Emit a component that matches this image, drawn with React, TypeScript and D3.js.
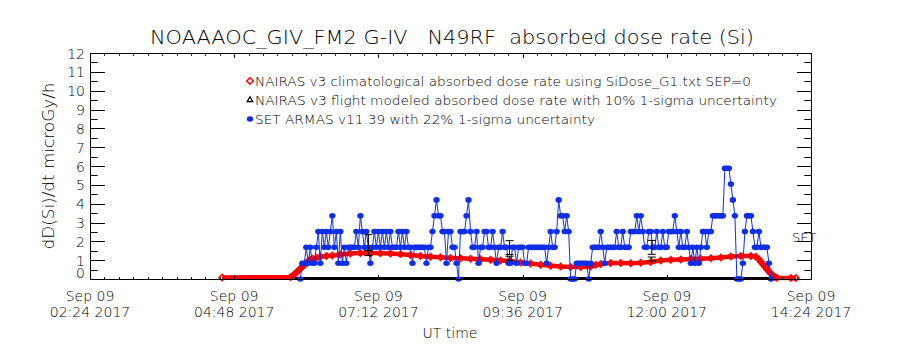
import React from 'react';
import * as d3 from 'd3';

// NAIRAS vs ARMAS absorbed dose rate, IDL-style frame with inward ticks.

const DAY = '2017-09-09';
const xTickLabels = ['02:24', '04:48', '07:12', '09:36', '12:00', '14:24'];
const yTickLabels = [0, 1, 2, 3, 4, 5, 6, 7, 8, 9, 10, 11, 12];

// NAIRAS v3 climatological (red diamonds)
const climTimes = [
  '04:36', '05:44', '05:46', '05:48', '05:50', '05:52', '05:54', '05:56', '05:58', '06:00',
  '06:02', '06:04', '06:06', '06:10', '06:14', '06:20', '06:26', '06:34', '06:44', '06:54',
  '07:04', '07:14', '07:24', '07:34', '07:44', '07:54', '08:04', '08:14', '08:24', '08:34',
  '08:44', '08:54', '09:04', '09:14', '09:24', '09:34', '09:44', '09:54', '10:04', '10:14',
  '10:24', '10:34', '10:44', '10:49', '10:54', '11:04', '11:14', '11:24', '11:34', '11:44',
  '11:54', '12:04', '12:14', '12:24', '12:34', '12:44', '12:54', '13:04', '13:14', '13:24',
  '13:29', '13:32', '13:34', '13:36', '13:38', '13:40', '13:42', '13:44', '13:46', '13:48',
  '13:50', '14:04', '14:09',
];
const climDose = [
  0.08, 0.1, 0.15, 0.25, 0.35, 0.45, 0.55, 0.65, 0.75, 0.85,
  0.95, 1.02, 1.08, 1.12, 1.18, 1.22, 1.25, 1.3, 1.35, 1.38,
  1.38, 1.37, 1.35, 1.32, 1.28, 1.22, 1.18, 1.15, 1.12, 1.1,
  1.08, 1.05, 1.02, 0.98, 0.95, 0.88, 0.82, 0.76, 0.7, 0.66,
  0.64, 0.64, 0.66, 0.75, 0.8, 0.85, 0.85, 0.84, 0.86, 0.9,
  0.98, 1.02, 1.04, 1.06, 1.08, 1.1, 1.14, 1.2, 1.22, 1.22,
  1.18, 1.05, 0.9, 0.78, 0.65, 0.52, 0.4, 0.28, 0.18, 0.1,
  0.06, 0.05, 0.05,
];

// SET ARMAS v11.39, one reading every 2 min from 05:54
const armasStart = '05:54';
const armasStepMin = 2;
const armasDose = [
  0, 0.84, 0.84, 1.68, 0.84, 1.68, 0.84, 0.84, 1.68, 2.52,
  0.84, 2.52, 1.68, 2.52, 1.68, 2.52, 3.36, 1.68, 2.52, 0.84,
  2.52, 0.84, 1.68, 0.84, 1.68, 1.68, 1.68, 1.68, 2.52, 1.68,
  3.36, 2.52, 1.68, 2.52, 1.68, 0.84, 1.68, 2.52, 1.68, 2.52,
  1.68, 2.52, 1.68, 2.52, 1.68, 2.52, 1.68, 1.68, 1.68, 2.52,
  1.68, 2.52, 1.68, 2.52, 1.68, 1.68, 0.84, 1.68, 1.68, 1.68,
  1.68, 1.68, 1.68, 0.84, 1.68, 1.68, 2.52, 3.36, 4.2, 3.36,
  3.36, 2.52, 2.52, 0.84, 2.52, 2.52, 1.68, 1.68, 0.84, 0,
  2.52, 2.52, 2.52, 3.36, 4.2, 2.52, 1.68, 1.68, 2.52, 0.84,
  1.68, 1.68, 2.52, 2.52, 1.68, 1.68, 2.52, 1.68, 0.84, 1.68,
  1.68, 2.52, 1.68, 1.68, 0.84, 0.84, 1.68, 1.68, 0.84, 1.68,
  1.68, 1.68, 0.84, 0.84, 1.68, 1.68, 1.68, 1.68, 1.68, 1.68,
  1.68, 1.68, 1.68, 0.84, 1.68, 2.52, 1.68, 1.68, 2.52, 4.2,
  3.36, 3.36, 2.52, 3.36, 2.52, 0, 0, 0, 0.84, 0.84,
  0.84, 0.84, 0.84, 0.84, 0, 0.84, 1.68, 1.68, 1.68, 1.68,
  2.52, 1.68, 0.84, 1.68, 1.68, 1.68, 1.68, 1.68, 2.52, 1.68,
  1.68, 2.52, 1.68, 1.68, 1.68, 2.52, 2.52, 2.52, 3.36, 2.52,
  3.36, 2.52, 1.68, 1.68, 2.52, 2.52, 1.68, 1.68, 2.52, 1.68,
  1.68, 2.52, 1.68, 1.68, 2.52, 2.52, 2.52, 3.36, 2.52, 1.68,
  2.52, 1.68, 1.68, 2.52, 1.68, 0.84, 1.68, 0.84, 1.68, 0.84,
  1.68, 2.52, 2.52, 1.68, 2.52, 2.52, 3.36, 3.36, 3.36, 3.36,
  3.36, 3.36, 5.88, 5.88, 5.88, 5.04, 4.2, 3.36, 0, 0,
  0, 0.84, 2.52, 3.36, 3.36, 3.36, 2.52, 1.68, 1.68, 2.52,
  1.68, 1.68, 1.68, 1.68, 0.84, 0,
];

// error bars: ARMAS (22%) above, NAIRAS flight modeled (10%) below
const errTimes = ['07:02', '09:23', '11:45'];
const errArmas = [1.93, 1.67, 1.68];
const errNairas = [1.38, 1.1, 1.06];

const parseT = d3.utcParse('%Y-%m-%d %H:%M');
const at = (hhmm: string) => parseT(`${DAY} ${hhmm}`) as Date;

const FONT = '"DejaVu Sans ExtraLight", "DejaVu Sans Light", Roboto, "Liberation Sans", sans-serif';
const RED = '#ff0000';
const BLUE = '#0f2ee8';

export default function App() {
  const left = 90, right = 811, top = 53, bottom = 279;

  const x = d3.scaleUtc().domain([at('02:24'), at('14:24')]).range([left, right]);
  const y = d3.scaleLinear().domain([0, 12]).range([bottom, top]);

  const clim = climTimes.map((t, i) => ({ t: at(t), v: climDose[i] }));
  const armas = armasDose.map((v, i) => ({
    t: d3.utcMinute.offset(at(armasStart), i * armasStepMin),
    v,
  }));

  const line = d3
    .line<{ t: Date; v: number }>()
    .x((d) => x(d.t))
    .y((d) => y(d.v));

  const minorX = d3.range(0, 721, 14.4).map((m) => d3.utcSecond.offset(at('02:24'), Math.round(m * 60)));
  const minorY = d3.range(0, 12.01, 0.5);
  const diamond = d3.symbol(d3.symbolDiamond2, 28)();
  const triangle = d3.symbol(d3.symbolTriangle2, 22)();

  const xMajLen = 4.5, xMinLen = 2.3, yMajLen = 14.4, yMinLen = 7.2;

  return (
    <svg
      width={900}
      height={350}
      style={{ position: 'absolute', left: 0, top: 0, background: '#fff' }}
      fontFamily={FONT}
      fontWeight={300}
    >
      <rect width={900} height={350} fill="#fff" />

      {/* title */}
      <text x={150} y={44} fontSize={20} textLength={604} lengthAdjust="spacingAndGlyphs" xmlSpace="preserve">
        NOAAAOC_GIV_FM2 G-IV   N49RF  absorbed dose rate (Si)
      </text>

      {/* baseline of flight-modeled track */}
      <line
        x1={x(clim[0].t)}
        x2={x(clim[clim.length - 1].t)}
        y1={y(0) - 1}
        y2={y(0) - 1}
        stroke="#000"
        strokeWidth={2.2}
      />

      {/* climatological red */}
      <path d={line(clim) ?? ''} fill="none" stroke={RED} strokeWidth={4.5} strokeLinejoin="round" />
      {clim.map((d, i) => (
        <path
          key={`c${i}`}
          d={diamond ?? ''}
          transform={`translate(${x(d.t)},${y(d.v)})`}
          fill="none"
          stroke={RED}
          strokeWidth={1.3}
        />
      ))}

      {/* ARMAS blue */}
      <path d={line(armas) ?? ''} fill="none" stroke={BLUE} strokeWidth={1} />
      {armas.map((d, i) => (
        <ellipse key={`a${i}`} cx={x(d.t)} cy={y(d.v)} rx={3.2} ry={2.8} fill={BLUE} />
      ))}

      {/* error bars */}
      {errTimes.map((t, i) => {
        const cx = x(at(t));
        const bars = [
          [errArmas[i] * 0.78, errArmas[i] * 1.22],
          [errNairas[i] * 0.9, errNairas[i] * 1.1],
        ];
        return (
          <g key={`e${i}`} stroke="#000" strokeWidth={1}>
            {bars.map(([lo, hi], j) => (
              <g key={j}>
                <line x1={cx} x2={cx} y1={y(lo)} y2={y(hi)} />
                <line x1={cx - 4} x2={cx + 4} y1={y(lo)} y2={y(lo)} />
                <line x1={cx - 4} x2={cx + 4} y1={y(hi)} y2={y(hi)} />
              </g>
            ))}
          </g>
        );
      })}

      {/* frame */}
      <rect x={left + 0.5} y={top + 0.5} width={right - left} height={bottom - top} fill="none" stroke="#000" strokeWidth={1} />

      {/* x ticks (bottom + top) */}
      {minorX.map((t, i) => {
        const xx = Math.round(x(t)) + 0.5;
        const len = i % 10 === 0 ? xMajLen : xMinLen;
        return (
          <g key={`xt${i}`} stroke="#000">
            <line x1={xx} x2={xx} y1={bottom + 0.5} y2={bottom + 0.5 - len} />
            <line x1={xx} x2={xx} y1={top + 0.5} y2={top + 0.5 + len} />
          </g>
        );
      })}

      {/* y ticks (left + right) */}
      {minorY.map((v, i) => {
        const yy = Math.round(y(v)) + 0.5;
        const len = i % 2 === 0 ? yMajLen : yMinLen;
        return (
          <g key={`yt${i}`} stroke="#000">
            <line x1={left + 0.5} x2={left + 0.5 + len} y1={yy} y2={yy} />
            <line x1={right + 0.5} x2={right + 0.5 - len} y1={yy} y2={yy} />
          </g>
        );
      })}

      {/* y tick labels */}
      {yTickLabels.map((v) => (
        <text
          key={`yl${v}`}
          x={left - 5}
          y={y(v) + (v === 0 ? -1 : 5.5)}
          fontSize={14}
          textAnchor="end"
        >
          {v}
        </text>
      ))}

      {/* x tick labels */}
      {xTickLabels.map((lab) => {
        const xx = x(at(lab));
        return (
          <g key={`xl${lab}`} fontSize={14} textAnchor="middle">
            <text x={xx} y={301}>Sep 09</text>
            <text x={xx} y={317}>{`${lab} 2017`}</text>
          </g>
        );
      })}

      <text x={450} y={338} fontSize={14} textAnchor="middle">UT time</text>

      <text
        transform="translate(54,166) rotate(-90)"
        fontSize={15}
        textAnchor="middle"
        textLength={167}
        lengthAdjust="spacingAndGlyphs"
      >
        dD(Si)/dt microGy/h
      </text>

      <text x={792} y={242} fontSize={13}>SET</text>

      {/* legend */}
      <g fontSize={12.5}>
        <path d={diamond ?? ''} transform="translate(250,81)" fill="none" stroke={RED} strokeWidth={1.5} />
        <text x={255} y={86} textLength={496} lengthAdjust="spacingAndGlyphs">
          NAIRAS v3 climatological absorbed dose rate using SiDose_G1.txt SEP=0
        </text>
        <path d={triangle ?? ''} transform="translate(250,100)" fill="none" stroke="#000" strokeWidth={1.3} />
        <text x={255} y={105} textLength={522} lengthAdjust="spacingAndGlyphs">
          NAIRAS v3 flight modeled absorbed dose rate with 10% 1-sigma uncertainty
        </text>
        <ellipse cx={250} cy={119} rx={3.2} ry={2.8} fill={BLUE} />
        <text x={255} y={124} textLength={340} lengthAdjust="spacingAndGlyphs">
          SET ARMAS v11.39 with 22% 1-sigma uncertainty
        </text>
      </g>
    </svg>
  );
}
